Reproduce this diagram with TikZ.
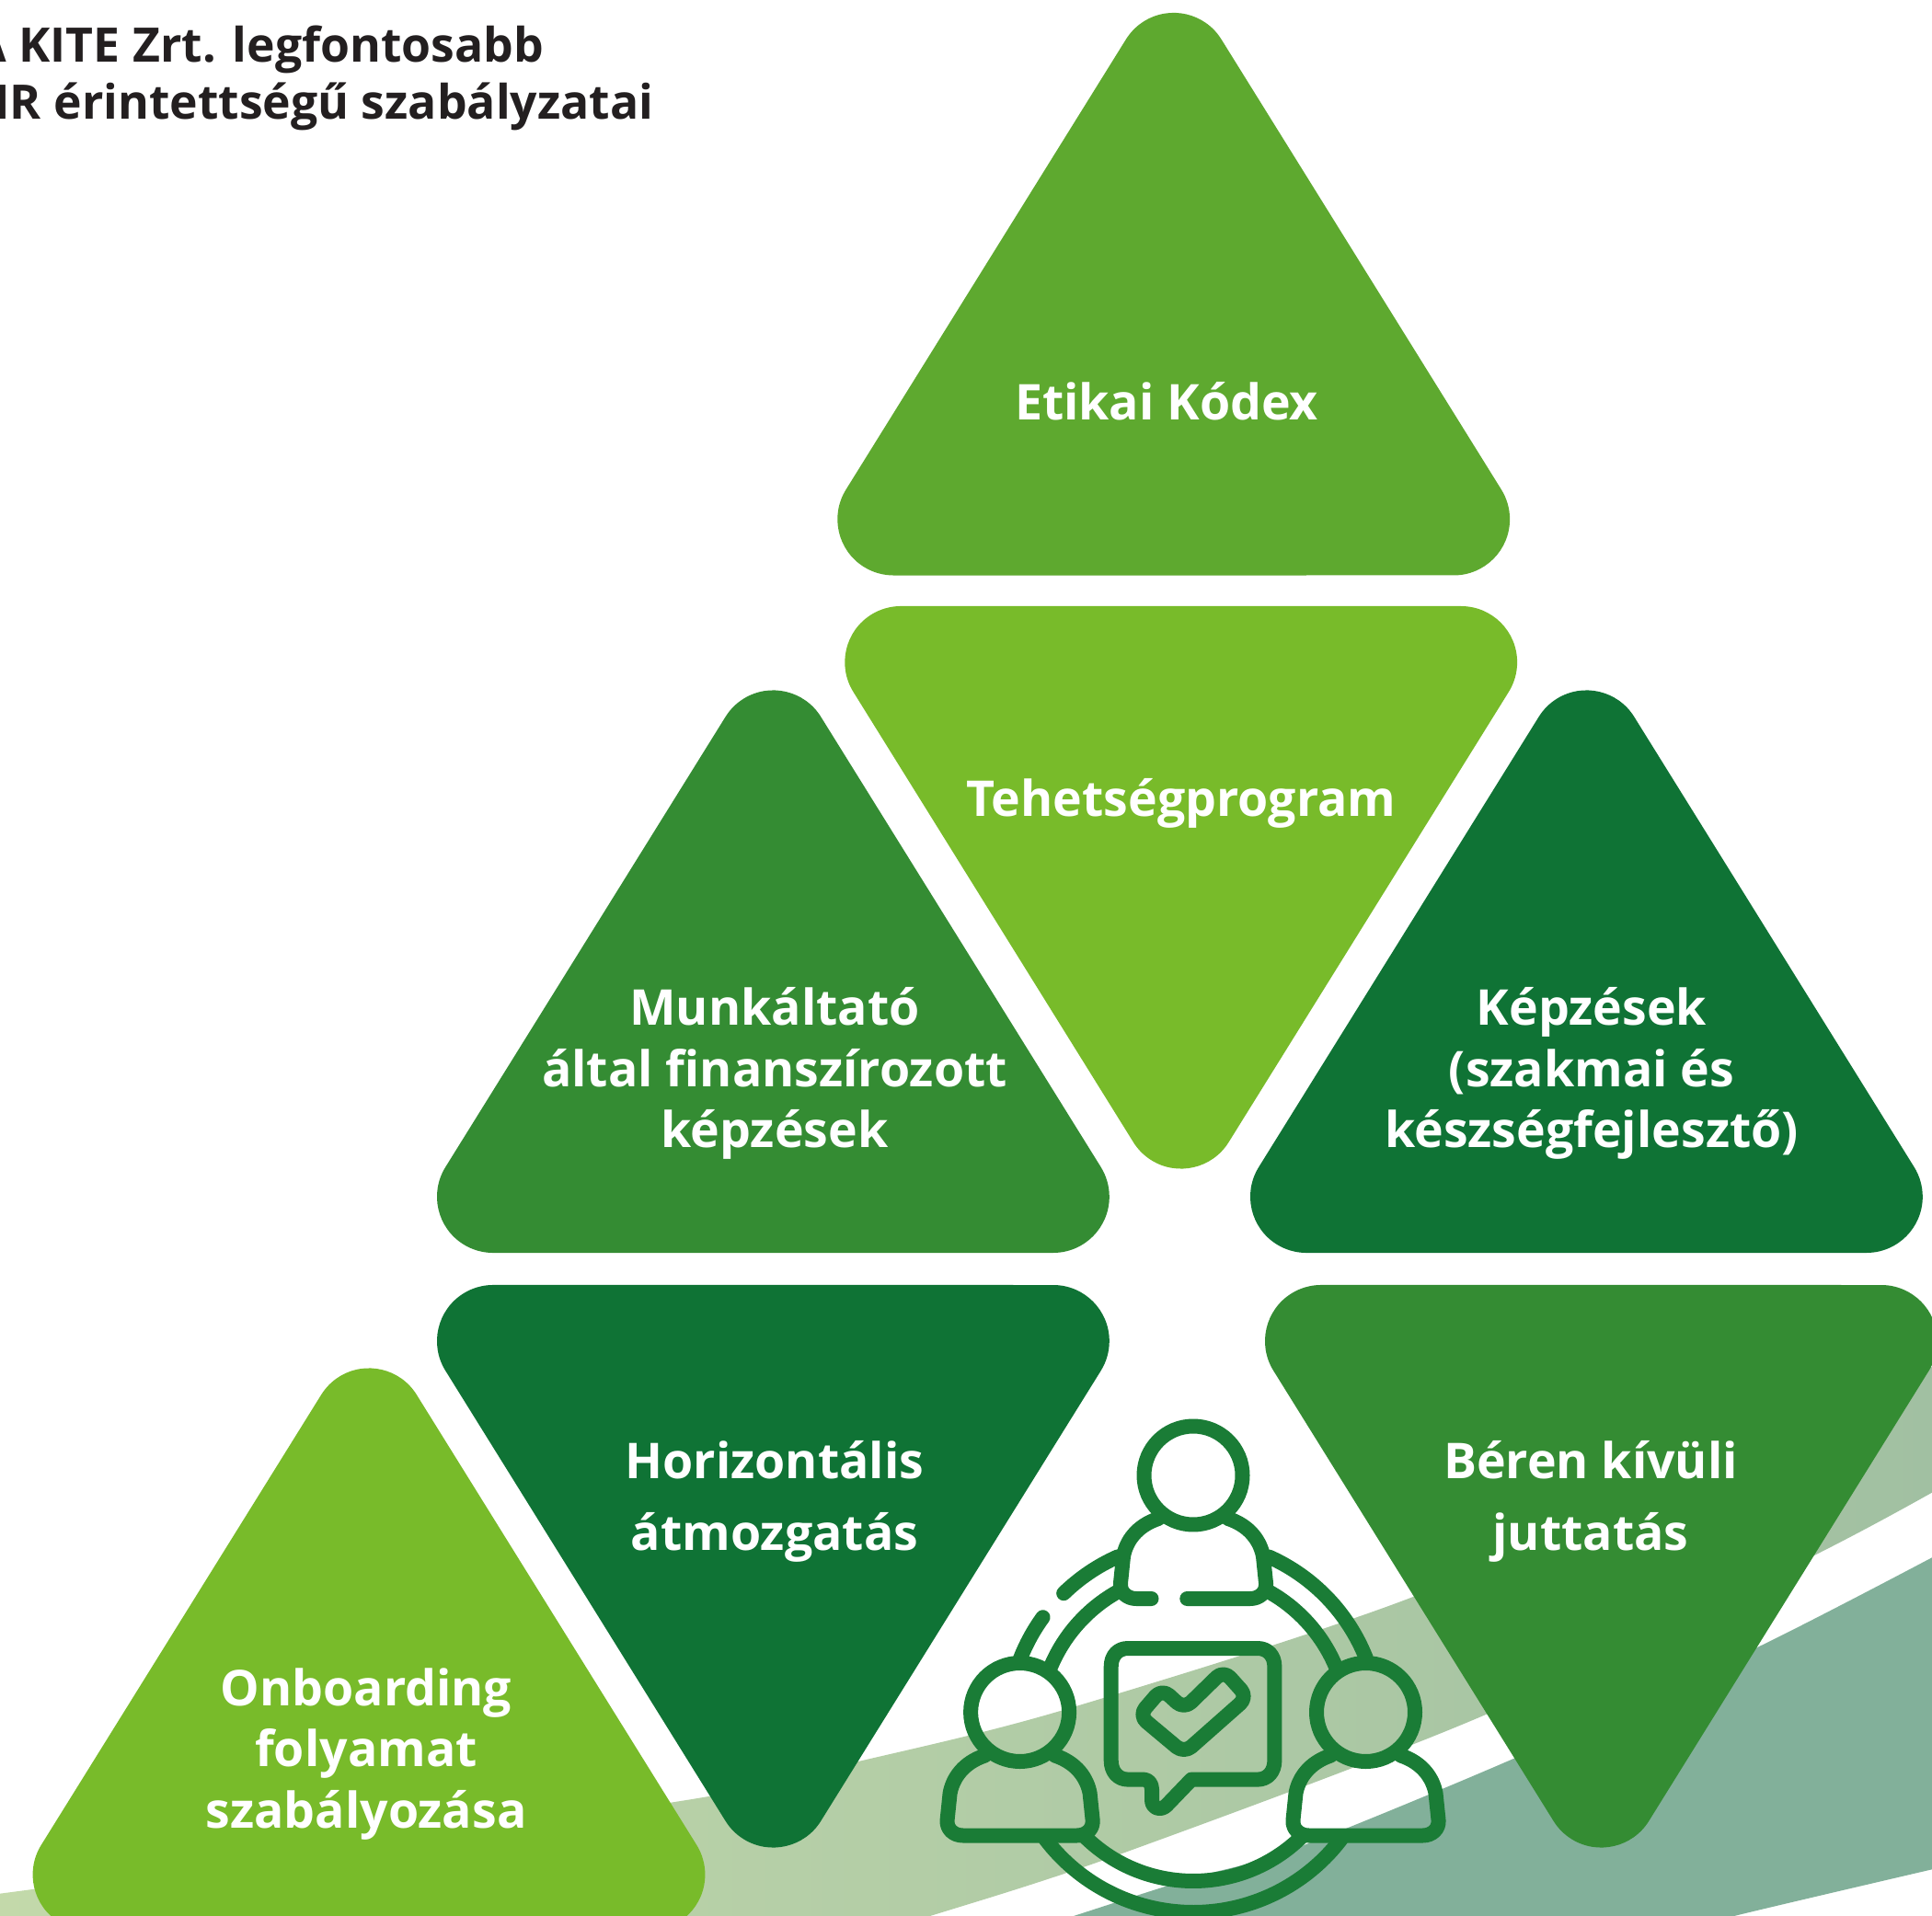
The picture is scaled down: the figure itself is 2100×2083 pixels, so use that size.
\documentclass[tikz,border=0pt]{standalone}
\usepackage{fontspec}
\setmainfont{Open Sans}
\definecolor{limegreen}{HTML}{78BB2A}
\definecolor{grassgreen}{HTML}{5EA92F}
\definecolor{midgreen}{HTML}{348C33}
\definecolor{darkgreen}{HTML}{0F7335}
\definecolor{iconline}{HTML}{1A7C36}
\definecolor{titleink}{HTML}{231F20}
\definecolor{bandleft}{HTML}{C3D9AA}
\definecolor{bandmiddle}{HTML}{AAC8A0}
\definecolor{bandright}{HTML}{A1C0A2}
\definecolor{bandteal}{HTML}{82B09A}
\tikzstyle{trilabel} = [
    text = white,
    align = center,
    font = \fontsize{15.25}{19}\selectfont\bfseries
]
\tikzstyle{trilabelwide} = [
    trilabel,
    font = \fontsize{15.25}{22.2}\selectfont\bfseries
]
\tikzstyle{icon} = [
    draw = iconline,
    line width = 4.55pt,
    line cap = round,
    line join = round
]
% triangle body, y counted from the base towards the tip
\newcommand{\tribody}[1]{
    \fill[#1] (304.4,0)
        arc[start angle=-90, end angle=31.9, radius=61] -- (51.8,582.8)
        arc[start angle=31.9, end angle=148.1, radius=61] -- (-356.2,93.2)
        arc[start angle=148.1, end angle=270, radius=61] -- cycle;
}
\newcommand{\tridown}[3]{
    \begin{scope}[shift={(#1,#2)}]\tribody{#3}\end{scope}
}
\newcommand{\triup}[3]{
    \begin{scope}[shift={(#1,#2)}, yscale=-1]\tribody{#3}\end{scope}
}
\tikzset{
    personopen/.pic = {
        \draw[icon] (0,0) circle[radius=53.5];
        \draw[icon] (-45.5,134) -- (-62,134)
            .. controls (-72,134) and (-80,127) .. (-79,117) -- (-76,88)
            .. controls (-73,72) and (-62,55) .. (-38,47);
        \draw[icon] (-6.7,134) -- (62,134)
            .. controls (72,134) and (80,127) .. (79,117) -- (76,88)
            .. controls (73,72) and (62,55) .. (38,47);
    },
    personclosed/.pic = {
        \draw[icon] (0,0) circle[radius=53.5];
        \draw[icon] (-38,47) .. controls (-62,55) and (-73,72) .. (-76,88)
            -- (-79,117) .. controls (-80,127) and (-72,134) .. (-62,134)
            -- (62,134) .. controls (72,134) and (80,127) .. (79,117)
            -- (76,88) .. controls (73,72) and (62,55) .. (38,47);
    }
}

\begin{document}
\begin{tikzpicture}[x=0.01cm, y=-0.01cm]
    \useasboundingbox (0,0) rectangle (2100,2083);
    \clip (0,0) rectangle (2100,2083);

    % background bands
    \shade[left color = bandleft, middle color = bandmiddle, right color = bandright]
        plot[smooth] coordinates {
            (-10,2060) (727,1960) (933,1915) (1156,1859) (1536,1736)
            (1850,1590) (2110,1482)}
        -- (2110,1617)
        -- plot[smooth] coordinates {
            (2110,1617) (1970,1692) (1615,1864)
            (1217,2016) (1011,2083) (900,2115)}
        -- (-10,2115) -- cycle;
    \fill[bandteal]
        plot[smooth] coordinates {
            (2110,1688) (1908,1792) (1645,1912) (1404,2011)
            (1295,2042) (1167,2083) (1100,2105)}
        -- plot[smooth] coordinates {
            (1850,2095) (1885,2083) (2110,2030)}
        -- cycle;

    % triangles
    \triup{1275.7}{625.5}{grassgreen}
    \tridown{1283.7}{659}{limegreen}
    \triup{840.4}{1362}{midgreen}
    \triup{1724.4}{1362}{darkgreen}
    \tridown{840.4}{1397}{darkgreen}
    \tridown{1740.4}{1397}{midgreen}
    \triup{401}{2099}{limegreen}

    % icon
    \pic at (1297,1604) {personopen};
    \pic at (1108.6,1861.5) {personclosed};
    \pic at (1484.5,1861.5) {personclosed};
    \coordinate (hub) at (1297,1877);
    \draw[icon] (hub) ++(-65.9:202) arc[start angle=-65.9, end angle=-21.6, radius=202];
    \draw[icon] (hub) ++(-114:202) arc[start angle=-114, end angle=-134.2, radius=202];
    \draw[icon] (hub) ++(-144:202) arc[start angle=-144, end angle=-158.4, radius=202];
    \draw[icon] (hub) ++(37.3:202) arc[start angle=37.3, end angle=142.7, radius=202];
    \draw[icon] (hub) ++(-60.7:168) arc[start angle=-60.7, end angle=-22.2, radius=168];
    \draw[icon] (hub) ++(-119.3:168) arc[start angle=-119.3, end angle=-157.8, radius=168];
    \draw[icon] (hub) ++(45.5:168) arc[start angle=45.5, end angle=134.5, radius=168];

    % speech bubble and check mark
    \draw[icon] (1226,1792) -- (1367,1792)
        .. controls (1378,1792) and (1385.4,1800) .. (1385.4,1812)
        -- (1385.4,1914) .. controls (1385.4,1926) and (1378,1934.6) .. (1367,1934.6)
        -- (1295,1934.6) -- (1268,1962.7)
        .. controls (1262,1969) and (1252,1966) .. (1252,1957) -- (1252,1945)
        .. controls (1252,1939) and (1248,1934.6) .. (1243,1934.6)
        -- (1226,1934.6) .. controls (1215,1934.6) and (1207.7,1926) .. (1207.7,1914)
        -- (1207.7,1812) .. controls (1207.7,1800) and (1215,1792) .. (1226,1792) -- cycle;
    \draw[icon, rounded corners=3pt] (1287,1906) -- (1238,1865) -- (1263,1836)
        -- (1287,1858) -- (1330,1816) -- (1356,1845) -- cycle;

    % labels
    \node (title) [
        anchor = west,
        align = left,
        text = titleink,
        font = \fontsize{14.7}{17.6}\selectfont\bfseries
    ] at (-41,85) {A KITE Zrt. legfontosabb\\HR érintettségű szabályzatai};

    \node (etikai) [trilabel] at (1268,436) {Etikai Kódex};
    \node (tehetseg) [trilabel] at (1284,873) {Tehetségprogram};
    \node (munkaltato) [trilabel] at (842,1167)
        {Munkáltató\\által finanszírozott\\képzések};
    \node (kepzesek) [trilabel] at (1730,1167)
        {Képzések\\(szakmai és\\készségfejlesztő)};
    \node (horizontalis) [trilabelwide] at (842,1632)
        {Horizontális\\átmozgatás};
    \node (beren) [trilabelwide] at (1729,1632)
        {Béren kívüli\\juttatás};
    \node (onboarding) [trilabel] at (398,1907)
        {Onboarding\\folyamat\\szabályozása};
\end{tikzpicture}
\end{document}
